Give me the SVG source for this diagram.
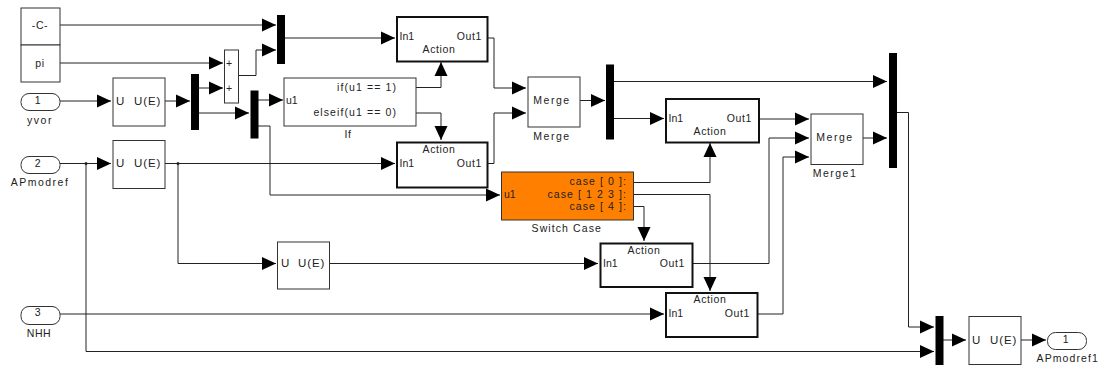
<svg xmlns="http://www.w3.org/2000/svg" width="1102" height="368" viewBox="0 0 1102 368">
<defs>
<marker id="a" markerUnits="userSpaceOnUse" markerWidth="15" markerHeight="14" refX="14" refY="7" orient="auto"><path d="M0 0.500 L14 7 L0 13.500 Z" fill="#000"/></marker>
</defs>
<style>
.b{fill:#fff;stroke:#333;stroke-width:1}
.t{fill:#fff;stroke:#111;stroke-width:2}
.m{fill:#000}
.c{fill:none;stroke:#222;stroke-width:1;marker-end:url(#a)}
.n{fill:none;stroke:#222;stroke-width:1}
text{font-family:"Liberation Sans",Arial,sans-serif;font-size:10.5px;fill:#222}
.l{text-anchor:middle;letter-spacing:.6px}
.r{text-anchor:end;letter-spacing:.6px}
.w{text-anchor:middle;letter-spacing:1.5px}
.u{font-size:11.5px;letter-spacing:.9px}
.e{text-anchor:end;letter-spacing:1.1px}
</style>
<rect width="1102" height="368" fill="#fff"/>
<g id="connectors">
<path class="c" d="M60 25H276"/>
<path class="c" d="M60 63H223"/>
<path class="c" d="M238 75.500H256V50H276"/>
<path class="c" d="M60 101H111"/>
<path class="c" d="M165 101H190"/>
<path class="c" d="M198 88H223"/>
<path class="c" d="M198 113H249"/>
<path class="c" d="M258 100H283"/>
<path class="n" d="M258 126H270V195"/>
<path class="c" d="M270 195H500"/>
<path class="c" d="M60 163.500H111"/>
<path class="c" d="M165 163.500H395"/>
<path class="c" d="M178 163.500V263.500H276"/>
<path class="c" d="M86 163.500V351.500H934"/>
<path class="c" d="M60 314H664"/>
<path class="c" d="M329 263.500H598"/>
<path class="c" d="M284 38H395"/>
<path class="c" d="M415 87.500H441V62"/>
<path class="c" d="M415 113H441V140"/>
<path class="c" d="M487 38H494V88H526"/>
<path class="c" d="M487 163.500H494V113H526"/>
<path class="c" d="M579 100.500H605"/>
<path class="c" d="M613 81.500H887"/>
<path class="c" d="M613 118.500H664"/>
<path class="c" d="M632 182.500H710V143"/>
<path class="c" d="M632 194.500H710V291"/>
<path class="c" d="M632 206.500H644V241"/>
<path class="c" d="M759 119H809"/>
<path class="c" d="M692 263.500H769V138H809"/>
<path class="c" d="M757 314H783V157H809"/>
<path class="c" d="M862 138H887"/>
<path class="n" d="M896 112.500H908.500"/>
<path class="c" d="M908.500 112.500V327H934"/>
<path class="c" d="M943 340H966"/>
<path class="c" d="M1021 340H1046"/>
<circle cx="86" cy="163.500" r="1.500" fill="#222"/>
<circle cx="178" cy="163.500" r="1.500" fill="#222"/>
</g>
<g id="const-c"><rect class="b" x="21" y="8" width="39" height="37"/><text class="l" x="40" y="29">-C-</text></g>
<g id="const-pi"><rect class="b" x="21" y="45" width="39" height="37"/><text class="l" x="40" y="67">pi</text></g>
<g id="in1"><rect class="b" x="21" y="93.500" width="39" height="17" rx="8"/><text class="l" x="38" y="104">1</text><text class="w" x="40" y="124">yvor</text></g>
<g id="in2"><rect class="b" x="21" y="156.500" width="39" height="17" rx="8"/><text class="l" x="38" y="167">2</text><text class="w" x="40" y="186">APmodref</text></g>
<g id="in3"><rect class="b" x="21" y="306.500" width="39" height="18" rx="8"/><text class="l" x="38" y="316">3</text><text class="l" x="39" y="337">NHH</text></g>
<g id="ue1"><rect class="b" x="113" y="78" width="52" height="48"/><text class="u" x="116" y="105">U</text><text class="u" x="134" y="105">U(E)</text></g>
<g id="ue2"><rect class="b" x="113" y="140.500" width="52" height="48"/><text class="u" x="116" y="167">U</text><text class="u" x="134" y="167">U(E)</text></g>
<g id="ue3"><rect class="b" x="277.500" y="242" width="52" height="47"/><text class="u" x="281" y="267">U</text><text class="u" x="298" y="267">U(E)</text></g>
<g id="ue4"><rect class="b" x="969" y="316.500" width="52" height="48"/><text class="u" x="972" y="344">U</text><text class="u" x="990" y="344">U(E)</text></g>
<g id="sum"><rect class="b" x="224.500" y="50" width="14" height="53"/><text x="226" y="67">+</text><text x="226" y="92">+</text></g>
<g id="mux1"><rect class="m" x="277" y="15" width="8" height="49"/></g>
<g id="mux2"><rect class="m" x="191" y="74" width="8" height="56"/></g>
<g id="mux3"><rect class="m" x="250.500" y="90.500" width="8" height="48"/></g>
<g id="mux4"><rect class="m" x="606" y="64.500" width="8" height="75"/></g>
<g id="mux5"><rect class="m" x="889" y="53" width="8" height="115"/></g>
<g id="mux6"><rect class="m" x="935.500" y="316" width="8" height="49"/></g>
<g id="if"><rect class="b" x="284" y="78" width="132" height="48"/><text x="286" y="104">u1</text><text class="e" x="397" y="91">if(u1 == 1)</text><text class="e" x="397" y="116">elseif(u1 == 0)</text><text class="l" x="348" y="138">If</text></g>
<g id="action1"><rect class="t" x="397" y="17" width="90.500" height="44.500"/><text x="399.500" y="40">In1</text><text class="r" x="482" y="40">Out1</text><text class="l" x="439" y="53">Action</text></g>
<g id="action2"><rect class="t" x="397" y="142.500" width="90.500" height="45"/><text class="l" x="439" y="153">Action</text><text x="399.500" y="167">In1</text><text class="r" x="482" y="167">Out1</text></g>
<g id="merge"><rect class="b" x="528" y="77" width="52" height="50"/><text class="w" x="552" y="104">Merge</text><text class="w" x="552" y="140">Merge</text></g>
<g id="action3"><rect class="t" x="666" y="99" width="93" height="43.500"/><text x="668.500" y="122">In1</text><text class="r" x="752" y="122">Out1</text><text class="l" x="710" y="135">Action</text></g>
<g id="merge1"><rect class="b" x="811" y="114" width="52" height="50.500"/><text class="w" x="835" y="141">Merge</text><text class="w" x="835" y="177">Merge1</text></g>
<g id="switch"><rect x="501.500" y="172" width="132" height="48" fill="#ff8000" stroke="#333"/><text x="504" y="198">u1</text><text class="e" x="627" y="185">case [ 0 ]:</text><text class="e" x="627" y="198">case [ 1 2 3 ]:</text><text class="e" x="627" y="210">case [ 4 ]:</text><text class="e" x="602" y="232">Switch Case</text></g>
<g id="action4"><rect class="t" x="600.500" y="243.500" width="92" height="43.500"/><text class="l" x="644" y="254">Action</text><text x="603" y="267">In1</text><text class="r" x="685" y="267">Out1</text></g>
<g id="action5"><rect class="t" x="666" y="293" width="91.500" height="44"/><text class="l" x="710" y="303">Action</text><text x="668.500" y="317">In1</text><text class="r" x="750" y="317">Out1</text></g>
<g id="out1"><rect class="b" x="1047.500" y="332.500" width="39" height="17" rx="8"/><text class="l" x="1066" y="343">1</text><text class="e" x="1099" y="362">APmodref1</text></g>
</svg>
